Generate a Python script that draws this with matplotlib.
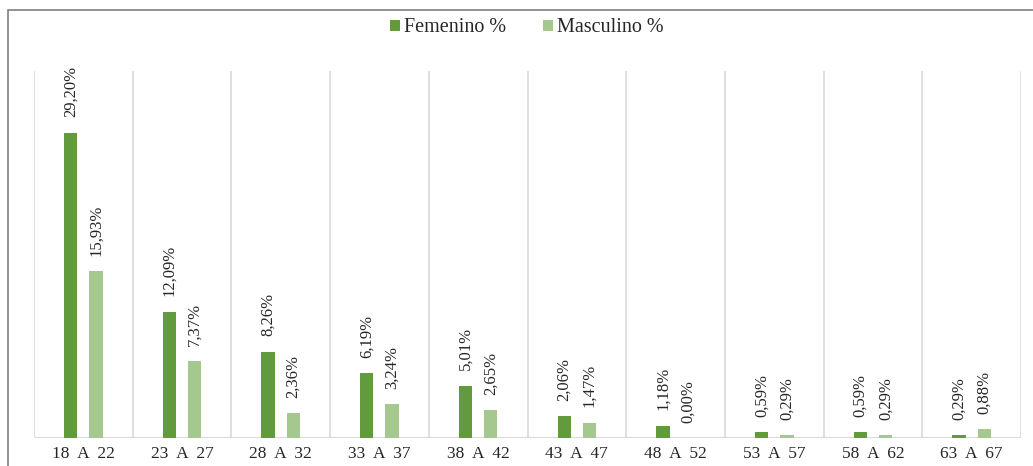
import matplotlib.pyplot as plt
import numpy as np
from matplotlib.patches import Rectangle

categories = ['18  A  22', '23  A  27', '28  A  32', '33  A  37', '38  A  42',
              '43  A  47', '48  A  52', '53  A  57', '58  A  62', '63  A  67']
femenino = [29.20, 12.09, 8.26, 6.19, 5.01, 2.06, 1.18, 0.59, 0.59, 0.29]
masculino = [15.93, 7.37, 2.36, 3.24, 2.65, 1.47, 0.00, 0.29, 0.29, 0.88]

dark_green = '#629A3E'
light_green = '#A5C88F'

plt.rcParams['font.family'] = ['Liberation Serif', 'DejaVu Serif']

fig = plt.figure(figsize=(10.33, 4.66), dpi=100)
ax = fig.add_axes([34 / 1033, 28 / 466, 987 / 1033, 367 / 466])

# outer chart frame (runs off the right and bottom edges)
fig.patches.append(Rectangle((8 / 1033, -0.1), 1.2, 0.1 + (466 - 10) / 466,
                             transform=fig.transFigure, fill=False,
                             edgecolor='#7F7F7F', linewidth=1.2))

x = np.arange(len(categories))
w = 0.135
off = 0.128
b1 = ax.bar(x - off, femenino, w, color=dark_green, label='Femenino %', zorder=3)
b2 = ax.bar(x + off, masculino, w, color=light_green, label='Masculino %', zorder=3)

def fmt(v):
    return '{:.2f}%'.format(v).replace('.', ',')

for bars, vals in ((b1, femenino), (b2, masculino)):
    for bar, v in zip(bars, vals):
        ax.annotate(fmt(v), (bar.get_x() + bar.get_width() / 2, v),
                    xytext=(0, 11), textcoords='offset points',
                    rotation=90, ha='center', va='bottom', fontsize=12,
                    color='#262626', annotation_clip=False)

ax.set_xlim(-0.5, len(categories) - 0.5)
ax.set_ylim(0, 35.1)
for b in np.arange(-0.5, len(categories), 1):
    ax.axvline(b, color='#D9D9D9', linewidth=1.2, zorder=1)
ax.axhline(0, color='#D9D9D9', linewidth=1.5, zorder=2)

ax.set_xticks(x)
ax.set_xticklabels(categories, fontsize=12.5, color='#262626')
ax.tick_params(axis='x', length=0, pad=6)
ax.set_yticks([])
for s in ax.spines.values():
    s.set_visible(False)

leg = fig.legend(handles=[b1, b2], loc='center', bbox_to_anchor=(527 / 1033, 1 - 28 / 466),
                 ncol=2, frameon=False, fontsize=14.5, handlelength=0.5, handleheight=0.5,
                 handletextpad=0.2, columnspacing=1.8)
for t in leg.get_texts():
    t.set_color('#262626')

fig.savefig('out.png', dpi=100)
